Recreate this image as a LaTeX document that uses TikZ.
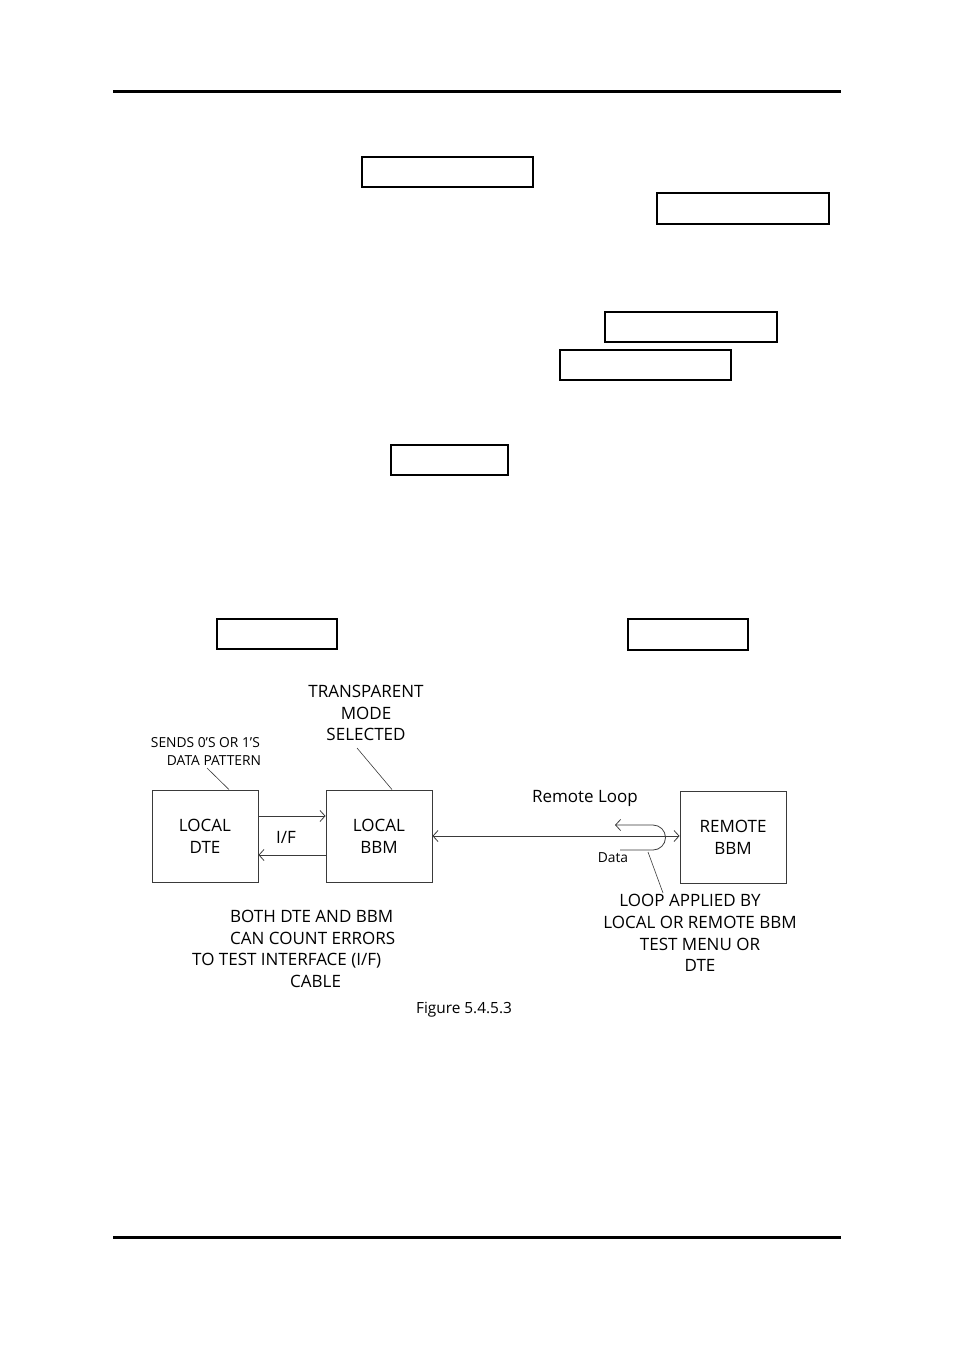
\documentclass[tikz,border=0pt]{standalone}
\usepackage{fontspec}
\setmainfont{Open Sans}
\usepackage{tikz}
\usetikzlibrary{positioning, arrows.meta}
\definecolor{lineGrey}{HTML}{3a3a3a}
\newcommand{\bigtxt}{\fontsize{17}{21.8}\selectfont}
\newcommand{\smalltxt}{\fontsize{13.8}{18}\selectfont}
\newcommand{\captxt}{\fontsize{15.4}{18}\selectfont}

\begin{document}
\begin{tikzpicture}[x=1pt, y=-1pt, rule/.style={line width=3pt}, blankbox/.style={draw, line width=2.6pt, inner sep=0pt}, unit/.style={draw=lineGrey, line width=0.9pt, minimum width=106pt, minimum height=92pt, align=center, font=\bigtxt}, txt/.style={align=center, font=\bigtxt, inner sep=0pt}, note/.style={align=left, font=\smalltxt, inner sep=0pt}, conn/.style={draw=lineGrey, line width=0.8pt, -{Straight Barb[length=5pt, width=11pt]}}, ptr/.style={draw=lineGrey, line width=0.6pt}]
\useasboundingbox (0,0) rectangle (954,1351);
\draw[rule] (113,92) -- (841,92);
\draw[rule] (113,1237) -- (841,1237);
\node[blankbox, minimum width=171pt, minimum height=30pt] (blankA) at (447.5,172) {};
\node[blankbox, minimum width=172pt, minimum height=31pt] (blankB) at (743,208.5) {};
\node[blankbox, minimum width=172pt, minimum height=30pt] (blankC) at (691,327) {};
\node[blankbox, minimum width=171pt, minimum height=30pt] (blankD) at (645.5,365) {};
\node[blankbox, minimum width=117pt, minimum height=30pt] (blankE) at (449.5,460) {};
\node[blankbox, minimum width=120pt, minimum height=30pt] (blankF) at (277,634) {};
\node[blankbox, minimum width=120pt, minimum height=31pt] (blankG) at (688,634.5) {};
\node[unit] (ldte) at (205,836) {LOCAL\\DTE};
\node[unit] (lbbm) at (379,836) {LOCAL\\BBM};
\node[unit] (rbbm) at (733,837.5) {REMOTE\\BBM};
\draw[conn] ([yshift=20pt]ldte.east) -- ([yshift=20pt]lbbm.west);
\draw[conn] ([yshift=-19pt]lbbm.west) -- ([yshift=-19pt]ldte.east);
\node[txt] (iflbl) at (286,837) {I/F};
\draw[conn, {Straight Barb[length=5pt, width=11pt]}-{Straight Barb[length=5pt, width=11pt]}] (lbbm.east) -- (rbbm.west |- lbbm.east);
\node[txt] (rloop) at (585,798) {Remote Loop};
\coordinate (loopin) at (620,850);
\coordinate (loopout) at (615,825);
\draw[conn] (loopin) -- ++(33,0) arc[start angle=90, end angle=-90, radius=12.5] -- (loopout);
\node[note] (datalbl) at (613,858) {Data};
\node[note] (sends) at (206,751) {SENDS 0'S OR 1'S\\\hspace*{16pt}DATA PATTERN};
\draw[ptr] (207,768) -- ([xshift=24pt]ldte.north);
\node[txt] (transp) at (366,713) {TRANSPARENT\\MODE\\SELECTED};
\draw[ptr] (357,748) -- ([xshift=13pt]lbbm.north);
\node[txt] (loopnote) at (700,933) {LOOP APPLIED BY\hspace*{20pt}\\LOCAL OR REMOTE BBM\\TEST MENU OR\\DTE};
\draw[ptr] (648,852) -- (663,893);
\node[txt, align=left, anchor=west] (bothnote) at (192,949) {\hspace*{38pt}BOTH DTE AND BBM\\\hspace*{38pt}CAN COUNT ERRORS\\TO TEST INTERFACE (I/F)\\\hspace*{98pt}CABLE};
\node[font=\captxt, inner sep=0pt] (figcap) at (464,1010) {Figure 5.4.5.3};
\end{tikzpicture}
\end{document}
